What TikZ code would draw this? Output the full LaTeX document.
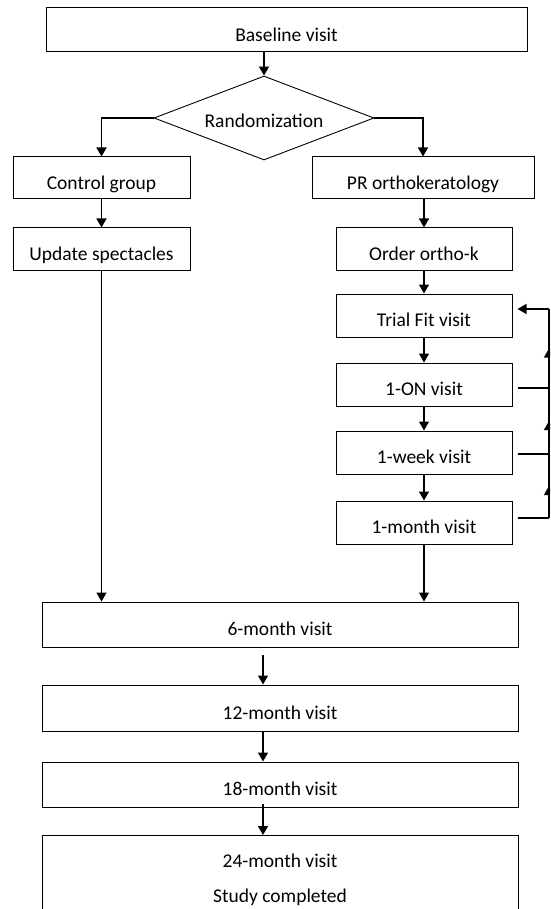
\documentclass[tikz,border=0pt]{standalone}
\usepackage{fontspec}
\setmainfont{Carlito}
\usetikzlibrary{positioning,shapes.geometric,arrows.meta,decorations.markings}

\begin{document}
\begin{tikzpicture}[x=1pt, y=-1pt,
		font=\fontsize{19.5pt}{23pt}\selectfont,
		>={Triangle[length=9pt, width=10pt]},
		box/.style={rectangle, draw, line width=1pt, inner sep=0pt, text height=25pt, text depth=2.4pt},
		flow/.style={->, line width=1.4pt},
		link/.style={line width=1.2pt},
		midarrow/.style={postaction={decorate}, decoration={markings, mark=at position 0.5 with {\arrow{>}}}}]
				\useasboundingbox (0,0) rectangle (550,909);
				\clip (0,0) rectangle (550,909);
				\node[box, minimum width=481pt, minimum height=44pt] (base) at (286.5, 30) {Baseline visit};
				\node[diamond, draw, aspect=2.6, line width=0.9pt, inner sep=0pt, text height=21pt, text depth=2.4pt, minimum width=220pt, minimum height=84pt] (rand) at (264, 118) {Randomization};
				\node[box, minimum width=177pt, minimum height=42pt] (ctrl) at (101.5, 178) {Control group};
				\node[box, minimum width=222pt, minimum height=42pt] (pr) at (423, 178) {PR orthokeratology};
				\node[box, minimum width=177pt, minimum height=42pt] (upd) at (101.5, 249) {Update spectacles};
				\node[box, minimum width=176pt, minimum height=42pt] (order) at (424, 249) {Order ortho-k};
				\node[box, minimum width=176pt, minimum height=43pt] (trial) at (424, 315.5) {Trial Fit visit};
				\node[box, minimum width=176pt, minimum height=43pt] (on) at (424, 384.5) {1-ON visit};
				\node[box, minimum width=176pt, minimum height=43pt] (week) at (424, 452.5) {1-week visit};
				\node[box, minimum width=176pt, minimum height=43pt] (month) at (424, 522.5) {1-month visit};
				\node[box, minimum width=476pt, minimum height=45pt] (six) at (280, 624.5) {6-month visit};
				\node[box, minimum width=476pt, minimum height=46pt] (twelve) at (280, 708) {12-month visit};
				\node[box, minimum width=476pt, minimum height=45pt] (eighteen) at (280, 784.5) {18-month visit};
				\node[box, anchor=north, minimum width=476pt, align=center, text height=67.3pt, text depth=100pt, font=\fontsize{19.5pt}{35pt}\selectfont] (final) at (280, 835) {24-month visit\\Study completed};
				\coordinate (r1) at (549, 309);
				\coordinate (r2) at (549, 388);
				\coordinate (r3) at (549, 454);
				\coordinate (r4) at (549, 518);
				\coordinate (gap) at (263, 655);
				\draw[flow] (rand.north |- base.south) -- (rand.north);
				\draw[flow] (rand.west) -| (ctrl.north);
				\draw[flow] (rand.east) -| (pr.north);
				\draw[flow] (ctrl.south) -- (upd.north);
				\draw[flow] (pr.south -| order.north) -- (order.north);
				\draw[flow] (order.south) -- (trial.north);
				\draw[flow] (trial.south) -- (on.north);
				\draw[flow] (on.south) -- (week.north);
				\draw[flow] (week.south) -- (month.north);
				\draw[flow] (upd.south) -- (upd.south |- six.north);
				\draw[flow] (month.south) -- (month.south |- six.north);
				\draw[flow] (gap) -- (gap |- twelve.north);
				\draw[flow] (twelve.south -| gap) -- (eighteen.north -| gap);
				\draw[flow] ([yshift=4pt]eighteen.south -| gap) -- (final.north -| gap);
				\draw[link] ([xshift=5pt]month.east |- r4) -- (r4);
				\draw[link] ([xshift=5pt]week.east |- r3) -- (r3);
				\draw[link] ([xshift=5pt]on.east |- r2) -- (r2);
				\draw[link, midarrow] (r4) -- (r3);
				\draw[link, midarrow] (r3) -- (r2);
				\draw[link, midarrow] (r2) -- (r1);
				\draw[flow] (r1) -- ([xshift=5pt]trial.east |- r1);
			\end{tikzpicture}
\end{document}
